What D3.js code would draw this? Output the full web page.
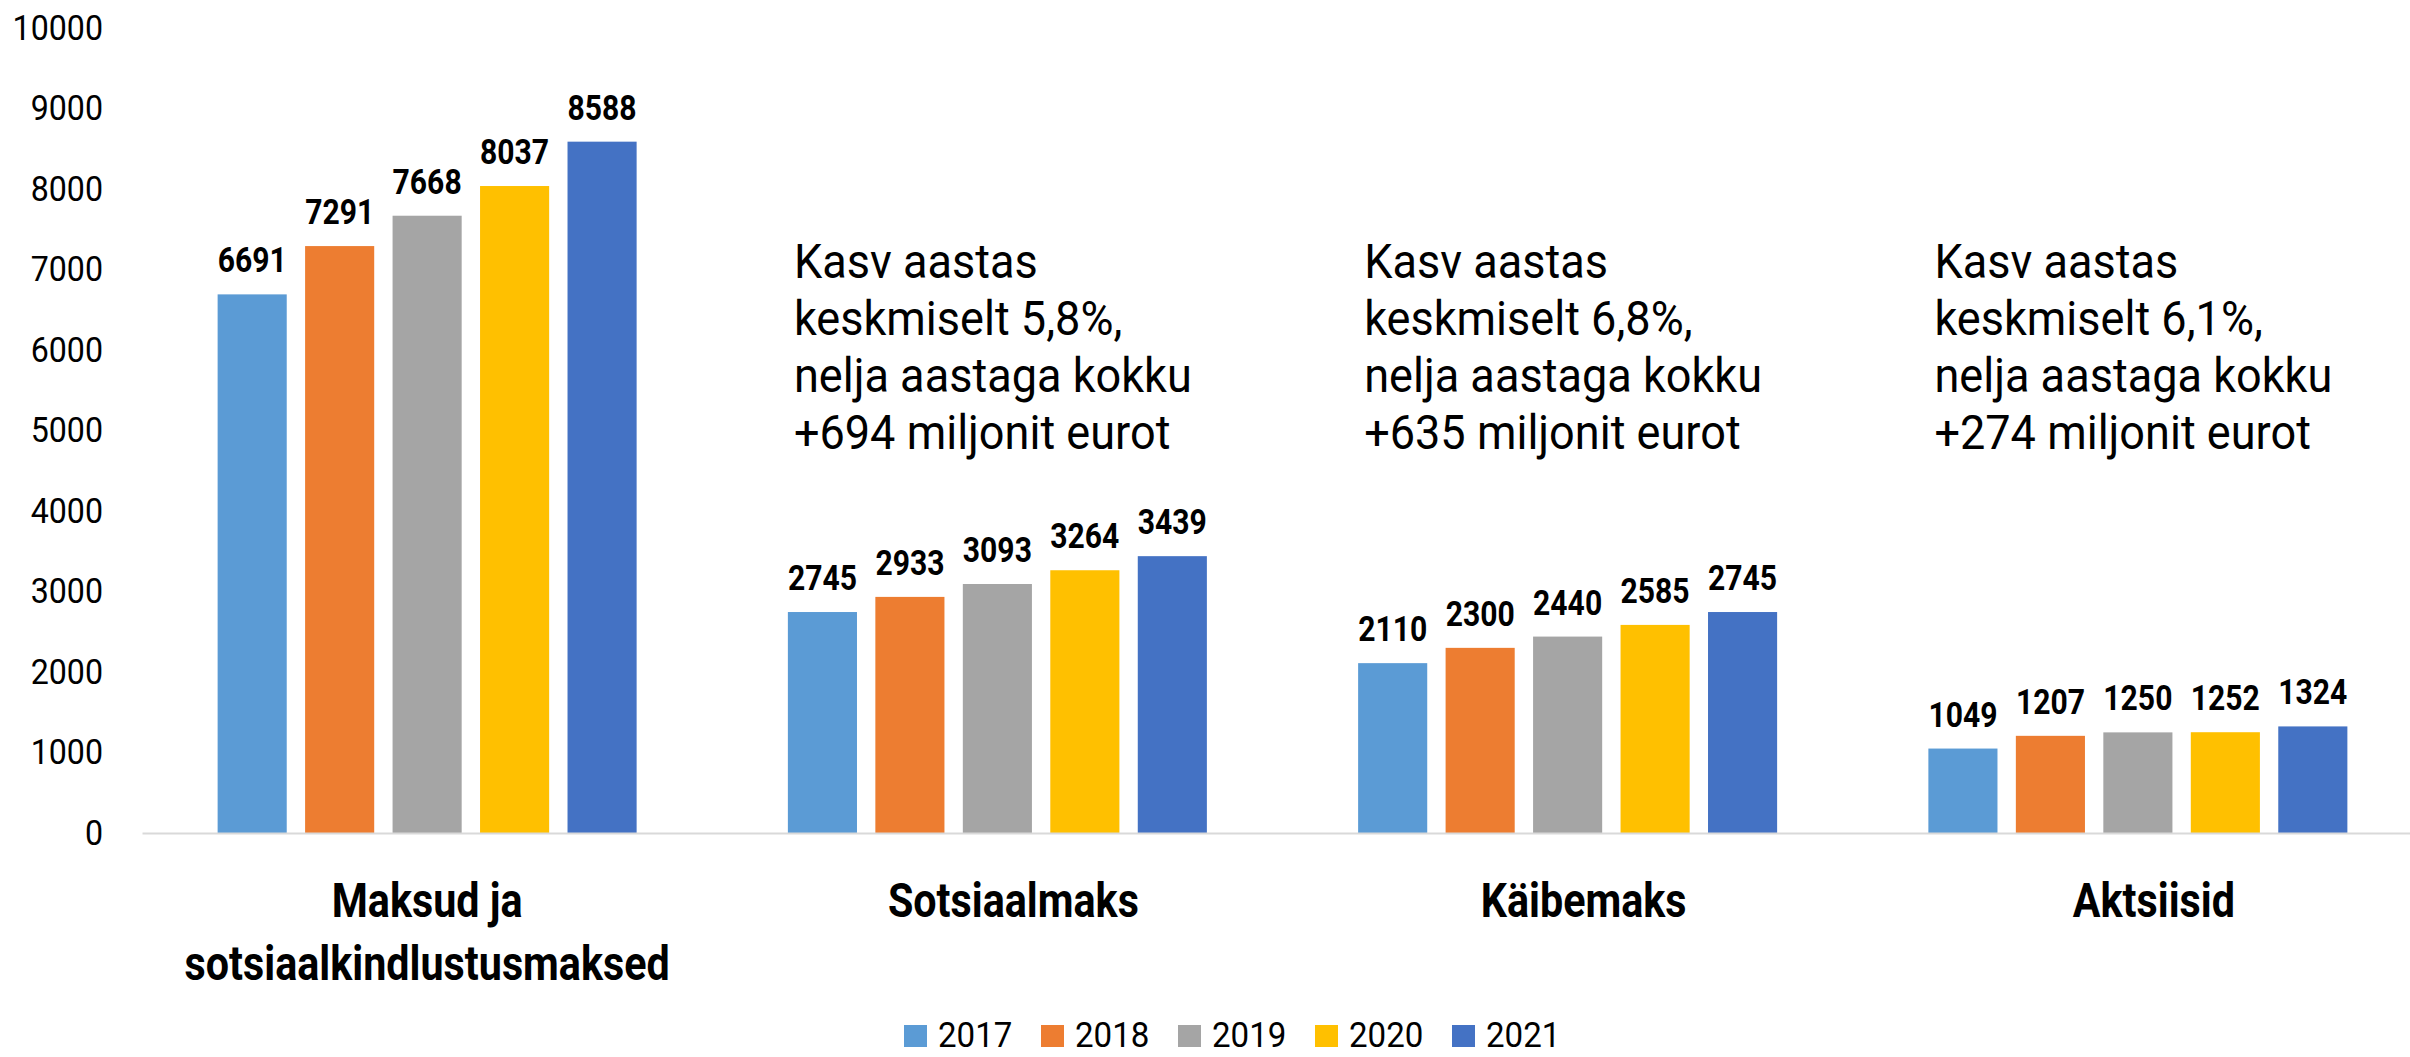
<!DOCTYPE html>
<html>
<head>
<meta charset="utf-8">
<script src="https://cdn.jsdelivr.net/npm/d3@7"></script>
<style>
  body { margin: 0; background: #fff; }
  svg text { font-family: Roboto, sans-serif; fill: #000; }
</style>
</head>
<body>
<script>
// data (million euros)
var categories = ["Maksud ja sotsiaalkindlustusmaksed", "Sotsiaalmaks", "Käibemaks", "Aktsiisid"];
var categoryLines = [["Maksud ja", "sotsiaalkindlustusmaksed"], ["Sotsiaalmaks"], ["Käibemaks"], ["Aktsiisid"]];
var years = ["2017", "2018", "2019", "2020", "2021"];
var v2017 = [6691, 2745, 2110, 1049];
var v2018 = [7291, 2933, 2300, 1207];
var v2019 = [7668, 3093, 2440, 1250];
var v2020 = [8037, 3264, 2585, 1252];
var v2021 = [8588, 3439, 2745, 1324];
var yearColors = ["#5B9BD5", "#ED7D31", "#A5A5A5", "#FFC000", "#4472C4"];
var yTicks = [0, 1000, 2000, 3000, 4000, 5000, 6000, 7000, 8000, 9000, 10000];
// growth notes, shown over the last three groups
var noteCategories = ["Sotsiaalmaks", "Käibemaks", "Aktsiisid"];
var noteLines = [
  ["Kasv aastas", "keskmiselt 5,8%,", "nelja aastaga kokku", "+694 miljonit eurot"],
  ["Kasv aastas", "keskmiselt 6,8%,", "nelja aastaga kokku", "+635 miljonit eurot"],
  ["Kasv aastas", "keskmiselt 6,1%,", "nelja aastaga kokku", "+274 miljonit eurot"]
];

var series = [v2017, v2018, v2019, v2020, v2021];
var width = 2410, height = 1057;
// narrow the face like the condensed font in the original
var squeezeBold = 0.86, squeeze = 0.92;

var x0 = d3.scaleBand().domain(categories).range([142, 2423]);
var x1 = d3.scaleBand().domain(years)
  .range([(x0.bandwidth() - 419) / 2, (x0.bandwidth() + 419) / 2])
  .paddingInner(0.21);
var y = d3.scaleLinear().domain([0, 10000]).range([833, 28]);
var color = d3.scaleOrdinal().domain(years).range(yearColors);

var svg = d3.select("body").append("svg")
  .attr("width", width)
  .attr("height", height);

// y axis, labels only
var yAxis = d3.axisLeft(y).tickValues(yTicks).tickSize(0).tickFormat(d3.format("d"));
var yg = svg.append("g").attr("transform", "translate(142,0)").call(yAxis);
yg.select(".domain").remove();
yg.selectAll(".tick text")
  .attr("x", 0)
  .attr("transform", "translate(-39,0) scale(" + squeeze + ",1)")
  .style("font-size", "35px")
  .style("font-family", "Roboto, sans-serif")
  .attr("fill", "#000");

// bars
var groups = svg.append("g").selectAll("g")
  .data(categories)
  .join("g")
  .attr("transform", function(d){ return "translate(" + x0(d) + ",0)"; });

groups.selectAll("rect")
  .data(function(d, i){ return years.map(function(yr, j){ return {year: yr, value: series[j][i]}; }); })
  .join("rect")
  .attr("x", function(d){ return x1(d.year); })
  .attr("y", function(d){ return y(d.value); })
  .attr("width", x1.bandwidth())
  .attr("height", function(d){ return y(0) - y(d.value); })
  .attr("fill", function(d){ return color(d.year); });

groups.selectAll("text.val")
  .data(function(d, i){ return years.map(function(yr, j){ return {year: yr, value: series[j][i]}; }); })
  .join("text")
  .attr("class", "val")
  .attr("text-anchor", "middle")
  .attr("transform", function(d){
    return "translate(" + (x1(d.year) + x1.bandwidth() / 2) + "," + (y(d.value) - 22) + ") scale(" + squeezeBold + ",1)";
  })
  .style("font-size", "35px")
  .style("font-weight", "bold")
  .text(function(d){ return d.value; });

// x axis line and category labels
var xAxis = d3.axisBottom(x0).tickSize(0).tickFormat("");
var xg = svg.append("g").attr("transform", "translate(0," + y(0) + ")").call(xAxis);
xg.select(".domain").attr("stroke", "#D9D9D9").attr("stroke-width", 2);
xg.selectAll(".tick text").remove();
xg.selectAll(".tick").each(function(d){
  var lines = categoryLines[categories.indexOf(d)];
  // single-line labels sit a little right of the group centre in the original
  var dx = lines.length > 1 ? 0 : 16;
  var t = d3.select(this).append("text")
    .attr("text-anchor", "middle")
    .attr("transform", "translate(" + dx + ",84) scale(" + squeezeBold + ",1)")
    .style("font-size", "48px")
    .style("font-weight", "bold")
    .attr("fill", "#000");
  t.selectAll("tspan").data(lines).join("tspan")
    .attr("x", 0)
    .attr("dy", function(l, i){ return i ? 63 : 0; })
    .text(function(l){ return l; });
});

// growth notes
noteCategories.forEach(function(c, k){
  var t = svg.append("text")
    .attr("transform", "translate(" + (x0(c) + x1.range()[0] + 6) + ",278) scale(" + squeeze + ",1)")
    .style("font-size", "49px");
  t.selectAll("tspan").data(noteLines[k]).join("tspan")
    .attr("x", 0)
    .attr("dy", function(l, i){ return i ? 57 : 0; })
    .text(function(l){ return l; });
});

// legend
var legend = svg.append("g").selectAll("g")
  .data(years)
  .join("g")
  .attr("transform", function(d, i){ return "translate(" + (904 + i * 137) + ",1025)"; });
legend.append("rect")
  .attr("width", 23).attr("height", 22)
  .attr("fill", function(d){ return color(d); });
legend.append("text")
  .attr("transform", "translate(34,22) scale(" + squeeze + ",1)")
  .style("font-size", "36px")
  .text(function(d){ return d; });
</script>
</body>
</html>
